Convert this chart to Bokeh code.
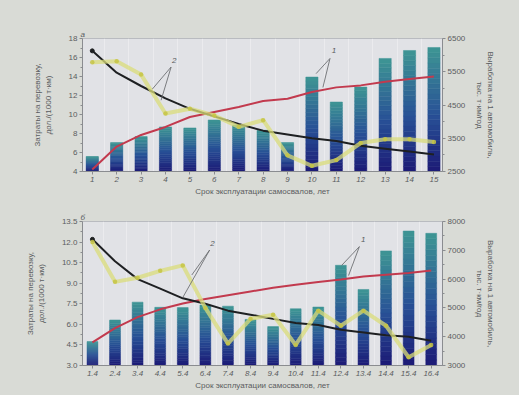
import numpy as np
from bokeh.plotting import figure
from bokeh.models import Range1d, LinearAxis, FixedTicker, ColumnDataSource
from bokeh.layouts import column
from bokeh.embed import file_html
from bokeh.resources import INLINE
from bokeh.core.properties import value

# ---------------- data: panel "а" ----------------
years_a = list(range(1, 16))
labels_a = [str(i) for i in years_a]
output_a = [2950, 3370, 3550, 3840, 3810, 4050, 3900, 3740, 3370, 5340, 4590, 5040, 5900, 6140, 6230]
output_fit_a = [2560, 3250, 3600, 3840, 4140, 4290, 4440, 4620, 4690, 4890, 5030, 5090, 5200, 5280, 5360]
cost_a = [15.5, 15.6, 14.2, 10.1, 10.6, 9.9, 8.7, 9.4, 5.7, 4.6, 5.2, 7.0, 7.4, 7.4, 7.1]
cost_fit_a = [16.7, 14.4, 13.0, 11.7, 10.6, 9.8, 9.0, 8.3, 7.9, 7.5, 7.2, 6.7, 6.4, 6.1, 5.8]
left_ticks_a = [4, 6, 8, 10, 12, 14, 16, 18]
right_ticks_a = [2500, 3500, 4500, 5500, 6500]

# ---------------- data: panel "б" ----------------
years_b = list(range(1, 17))
labels_b = ["1.4", "2.4", "3.4", "4.4", "5.4", "6.4", "7.4", "8.4", "9.4", "10.4",
            "11.4", "12.4", "13.4", "14.4", "15.4", "16.4"]
output_b = [3830, 4580, 5200, 5020, 5010, 5100, 5060, 4600, 4350, 4970, 5030, 6480, 5640, 6980, 7670, 7590]
output_fit_b = [3800, 4300, 4680, 4950, 5150, 5310, 5440, 5570, 5700, 5800, 5900, 5990, 6090, 6150, 6210, 6300]
cost_b = [12.0, 9.1, 9.4, 9.9, 10.3, 7.2, 4.6, 6.4, 6.7, 4.5, 7.0, 5.9, 7.0, 5.9, 3.6, 4.5]
cost_fit_b = [12.2, 10.6, 9.3, 8.6, 7.9, 7.5, 7.0, 6.7, 6.4, 6.1, 5.95, 5.6, 5.4, 5.2, 5.1, 4.8]
left_ticks_b = [3.0, 4.5, 6.0, 7.5, 9.0, 10.5, 12.0, 13.5]
right_ticks_b = [3000, 4000, 5000, 6000, 7000, 8000]

x_title = "Срок эксплуатации самосвалов, лет"
left_title = "Затраты на перевозку,\nдол./(1000 т·км)"
right_title = "Выработка на 1 автомобиль,\nтыс. т·км/год"

FONT = "Liberation Sans"
TXT = "#5a5c60"
BG_OUT = "#d9dbd6"
BG_IN = "#e1e2e6"

# gradient stops (bottom -> top of each bar)
stops = [(0.0, (28, 26, 118)), (0.45, (40, 80, 150)), (1.0, (62, 150, 148))]


def grad_color(t):
    for (t0, c0), (t1, c1) in zip(stops[:-1], stops[1:]):
        if t <= t1:
            f = (t - t0) / (t1 - t0)
            c = [int(round(a + (b - a) * f)) for a, b in zip(c0, c1)]
            return "#%02x%02x%02x" % tuple(c)
    return "#%02x%02x%02x" % stops[-1][1]


def style_axis(ax, size="8px", label_standoff=2):
    ax.major_label_text_font = FONT
    ax.major_label_text_font_size = size
    ax.major_label_text_color = TXT
    ax.axis_label_text_font = FONT
    ax.axis_label_text_font_size = "8px"
    ax.axis_label_text_font_style = "normal"
    ax.axis_label_text_color = TXT
    ax.axis_line_color = "#8a8c90"
    ax.major_tick_line_color = "#8a8c90"
    ax.minor_tick_line_color = "#8a8c90"
    ax.major_tick_out = 3
    ax.major_tick_in = 0
    ax.minor_tick_out = 2
    ax.minor_tick_in = 0
    ax.major_label_standoff = 2
    ax.axis_label_standoff = label_standoff


def make_panel(letter, xs, xlabels, out, out_fit, cost, cost_fit, lticks, rticks,
               xr, height, bl, br, bt, bb, bar_w, ann, fmt):
    lrange = (lticks[0], lticks[-1])
    rrange = (rticks[0], rticks[-1])
    p = figure(width=519, height=height, output_backend="svg", toolbar_location=None,
               x_range=Range1d(*xr), y_range=Range1d(*lrange),
               min_border_left=bl, min_border_right=br, min_border_top=bt, min_border_bottom=bb,
               background_fill_color=BG_IN, border_fill_color=BG_OUT, outline_line_color="#b9bbc0")
    p.title.text = letter
    p.title.text_font = FONT
    p.title.text_font_size = "8px"
    p.title.text_font_style = "italic"
    p.title.text_color = TXT
    p.title.align = "left"
    p.title.offset = -2
    p.title.standoff = 0
    p.extra_y_ranges = {"r": Range1d(*rrange)}

    p.xgrid.ticker = FixedTicker(ticks=[x + 0.5 for x in xs[:-1]])
    p.xgrid.grid_line_color = "#f2f2f4"
    p.xgrid.grid_line_alpha = 0.6
    p.ygrid.grid_line_color = None

    # gradient bars (stacked slices)
    n = 24
    base = rrange[0]
    xs_all, b_all, t_all, c_all = [], [], [], []
    for x, v in zip(xs, out):
        for k in range(n):
            xs_all.append(x)
            b_all.append(base + (v - base) * k / n)
            t_all.append(base + (v - base) * (k + 1) / n)
            c_all.append(grad_color((k + 0.5) / n))
    src = ColumnDataSource(dict(x=xs_all, b=b_all, t=t_all, c=c_all))
    p.vbar(x="x", bottom="b", top="t", width=bar_w, fill_color="c", line_color="c",
           line_width=0.5, source=src, y_range_name="r")

    # fitted output (red)
    p.line(xs, out_fit, y_range_name="r", line_color="#c23a4e", line_width=2)
    # fitted cost (black)
    p.line(xs, cost_fit, line_color="#1e2022", line_width=2)
    p.scatter(xs[:1], cost_fit[:1], size=4, color="#1e2022")
    # actual cost (yellow)
    p.line(xs, cost, line_color="#d9dc7a", line_width=4, line_alpha=0.75)
    p.scatter(xs, cost, size=4.5, fill_color="#c6c444", line_color=None, fill_alpha=0.85)

    # annotations with leader lines
    for (tx, ty, t, segs) in ann:
        p.text([tx], [ty], text=[t], text_font=value(FONT), text_font_size="8px",
               text_font_style="italic", text_color=TXT, text_align="center",
               text_baseline="middle")
        for (x0, y0, x1, y1) in segs:
            p.segment([x0], [y0], [x1], [y1], line_color="#6e7074", line_width=0.9)

    # axes
    p.xaxis.ticker = FixedTicker(ticks=xs)
    p.xaxis.major_label_overrides = {x: l for x, l in zip(xs, xlabels)}
    p.xaxis.axis_label = x_title
    p.xaxis.minor_tick_line_color = None
    style_axis(p.xaxis[0])
    p.xaxis.major_label_text_font_style = "italic"

    p.yaxis.ticker = FixedTicker(ticks=lticks,
                                 minor_ticks=list(np.arange(lticks[0], lticks[-1], (lticks[1] - lticks[0]) / 2)))
    p.yaxis.axis_label = left_title
    style_axis(p.yaxis[0], label_standoff=13)
    if fmt:
        p.yaxis.major_label_overrides = {t: ("%.1f" % t) for t in lticks}

    rax = LinearAxis(y_range_name="r", axis_label=right_title)
    rax.ticker = FixedTicker(ticks=rticks,
                             minor_ticks=list(np.arange(rticks[0], rticks[-1], (rticks[1] - rticks[0]) / 2)))
    style_axis(rax, label_standoff=7)
    p.add_layout(rax, "right")
    return p


ann_a = [
    (4.36, 15.7, "2", [(4.23, 15.0, 3.46, 12.67), (4.23, 15.0, 3.82, 11.5)]),
    (10.9, 16.7, "1", [(10.74, 15.9, 10.17, 14.3), (10.74, 15.9, 10.45, 12.85)]),
]
ann_b = [
    (6.32, 11.9, "2", [(6.19, 11.42, 5.01, 7.99), (6.19, 11.42, 5.40, 9.60)]),
    (12.99, 12.2, "1", [(12.82, 11.67, 12.03, 10.29), (12.82, 11.67, 12.34, 9.56)]),
]

pa = make_panel("а", years_a, labels_a, output_a, output_fit_a, cost_a, cost_fit_a,
                left_ticks_a, right_ticks_a, (0.6, 15.35), 198, 82, 77, 38, 26, 0.5, ann_a, False)
pb = make_panel("б", years_b, labels_b, output_b, output_fit_b, cost_b, cost_fit_b,
                left_ticks_b, right_ticks_b, (0.56, 16.5), 197, 82, 71, 23, 30, 0.48, ann_b, True)

layout = column(pa, pb, spacing=0)
html = file_html(layout, INLINE)
html = html.replace("<body>", "<body style=\"background:%s;margin:0;overflow:hidden;\">" % BG_OUT)
open("out.html", "w").write(html)
